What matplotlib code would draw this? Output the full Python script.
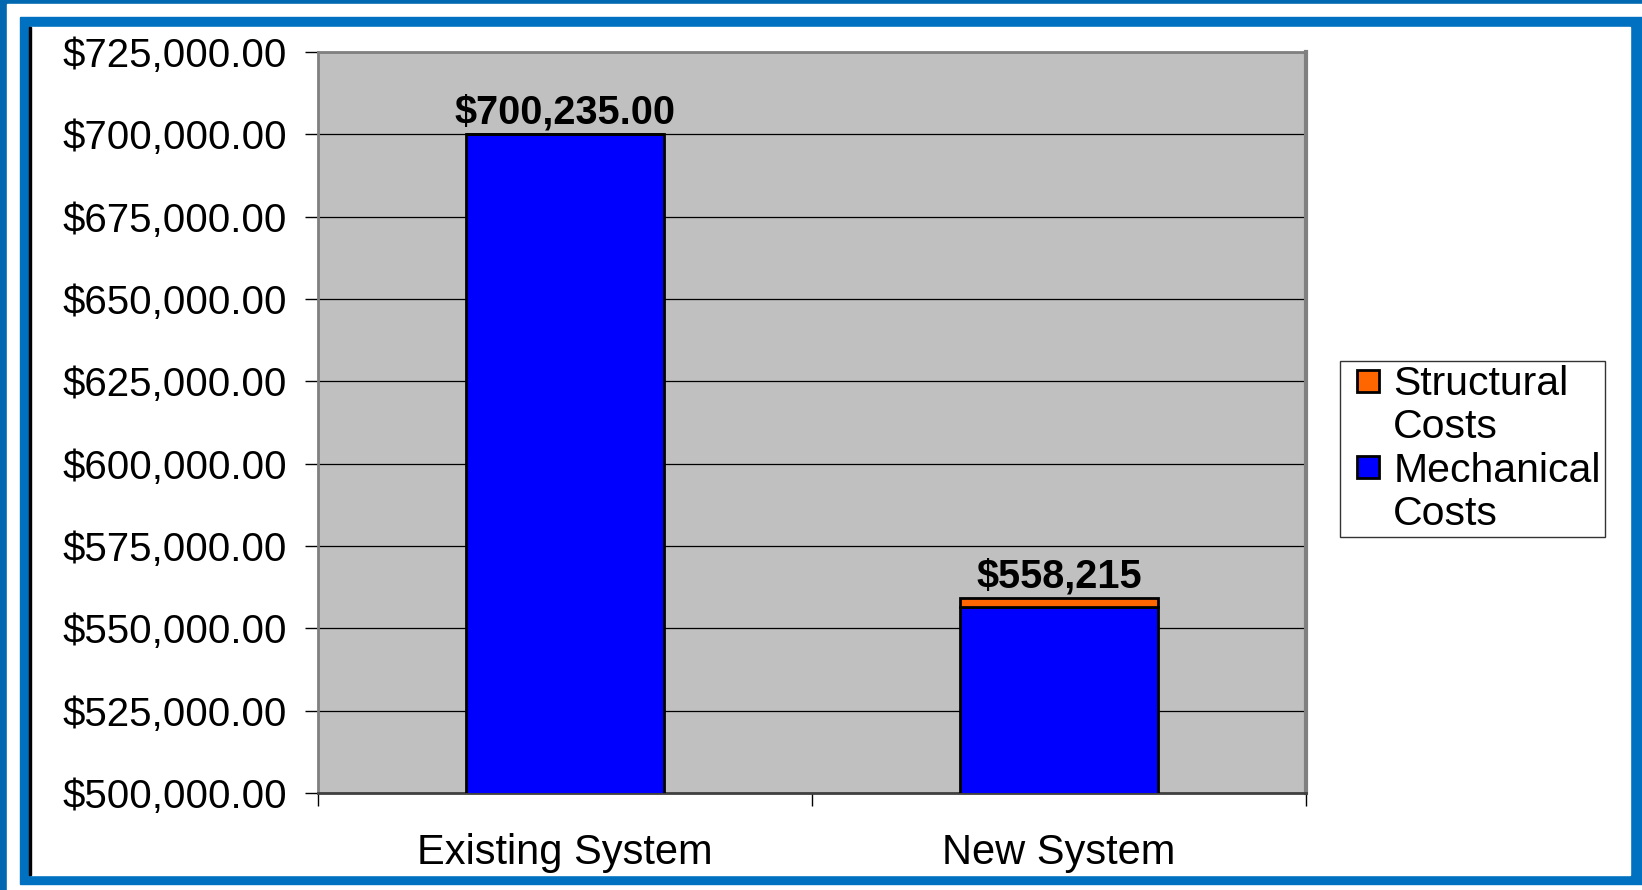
import matplotlib
matplotlib.use('Agg')
import matplotlib.pyplot as plt
from matplotlib.patches import Rectangle, Patch
from matplotlib.legend_handler import HandlerPatch
import numpy as np

plt.rcParams['font.family'] = ['Liberation Sans', 'DejaVu Sans']

# data
categories = ['Existing System', 'New System']
mechanical = [700235, 556500]
structural = [0, 2800]
bar_labels = ['$700,235.00', '$558,215']
y_ticks = np.arange(500000, 725001, 25000)
legend_labels = ['Structural', 'Costs', 'Mechanical', 'Costs']

W, H = 1642, 890
fig = plt.figure(figsize=(W / 100, H / 100), dpi=100, facecolor='#0068B0')

def px_rect(x0, y0, x1, y1, color):
    # rectangle in pixel coords (origin top-left)
    fig.patches.append(Rectangle((x0 / W, 1 - y1 / H), (x1 - x0) / W, (y1 - y0) / H,
                                 transform=fig.transFigure, color=color, zorder=-10))

# slide frame
px_rect(7, 4, W, H, 'white')
px_rect(20, 17, W, 884, '#0070C0')
px_rect(30, 27, 1630, 875, 'white')
px_rect(29, 27, 31, 875, 'black')

ax = fig.add_axes([318 / W, 1 - 793 / H, (1306 - 318) / W, (793 - 52) / H])
ax.set_facecolor('#C0C0C0')

x = np.arange(len(categories))
width = 0.40
ax.bar(x, mechanical, width, color='#0000FF', edgecolor='black', linewidth=2, zorder=3)
ax.bar(x, structural, width, bottom=mechanical, color='#FF6600', edgecolor='black',
       linewidth=2, zorder=3)

totals = [m + s for m, s in zip(mechanical, structural)]
for xi, t, lab in zip(x, totals, bar_labels):
    ax.annotate(lab, (xi, t), xytext=(0, 7), textcoords='offset points',
                ha='center', va='baseline', fontsize=28.5, fontweight='bold', zorder=4)

ax.set_ylim(500000, 725000)
ax.set_xlim(-0.5, 1.5)
ax.set_yticks(y_ticks)
ax.set_yticklabels(['${:,.2f}'.format(v) for v in y_ticks], fontsize=29)
ax.yaxis.grid(True, color='black', linewidth=0.9, zorder=1)
ax.set_axisbelow(True)

ax.set_xticks(x)
ax.set_xticklabels(categories, fontsize=30)
ax.set_xticks([-0.5, 0.5, 1.5], minor=True)
ax.tick_params(axis='x', which='major', length=0, pad=28.5)
ax.tick_params(axis='x', which='minor', length=9.4, width=1, color='black')
ax.tick_params(axis='y', length=9.4, width=1, color='black', pad=13)

for side in ['left', 'top']:
    ax.spines[side].set_color('#808080')
    ax.spines[side].set_linewidth(2)
ax.spines['right'].set_color('#808080')
ax.spines['right'].set_linewidth(3)
ax.spines['bottom'].set_color('#404040')
ax.spines['bottom'].set_linewidth(2)

# legend: small square at the right end of the handle box
def square(legend, orig_handle, xdescent, ydescent, width, height, fontsize):
    s = 0.54 * fontsize
    return Rectangle((-xdescent + width - s, -ydescent + (height - s) / 2), s, s)

blank = Patch(facecolor='none', edgecolor='none')
handles = [Patch(facecolor='#FF6600', edgecolor='black', linewidth=2), blank,
           Patch(facecolor='#0000FF', edgecolor='black', linewidth=2), blank]
leg = fig.legend(handles, legend_labels, loc='upper left',
                 bbox_to_anchor=(1340 / W, 1 - 361 / H),
                 borderaxespad=0, fontsize=29.5, frameon=True, fancybox=False,
                 edgecolor='black', handlelength=0.86, handleheight=0.54,
                 handletextpad=0.34, labelspacing=0.13, borderpad=0.1,
                 handler_map={Patch: HandlerPatch(patch_func=square)})
leg.get_frame().set_linewidth(1)

fig.savefig('out.png', dpi=100, facecolor=fig.get_facecolor())
